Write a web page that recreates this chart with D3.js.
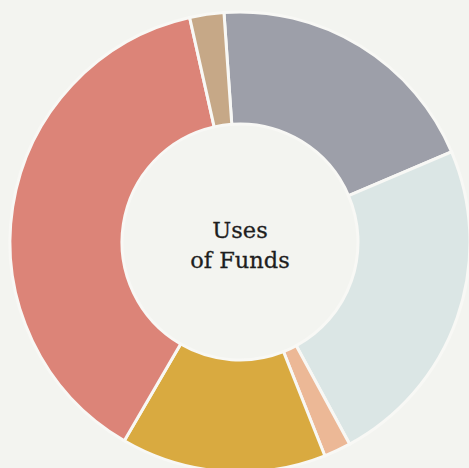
<!DOCTYPE html>
<html>
<head>
<meta charset="utf-8">
<script src="https://cdn.jsdelivr.net/npm/d3@7"></script>
<style>
  html, body { margin: 0; padding: 0; background: #f3f4f0; overflow: hidden; }
  svg { display: block; }
</style>
</head>
<body>
<svg id="chart" width="469" height="468"></svg>
<script>
const categories = ["Gray", "Light blue", "Peach", "Gold", "Salmon", "Tan"];
const values = [19.7, 23.5, 1.9, 14.4, 38.1, 2.4];
const colors = ["#9d9fa9", "#dbe6e5", "#ecb896", "#d9aa40", "#dc8478", "#c6a887"];
const titleLines = ["Uses", "of Funds"];

const width = 469, height = 468;
const cx = 240, cy = 242;
const outerR = 230, innerR = 118;
const startDeg = -4;

const svg = d3.select("#chart");
svg.append("rect").attr("width", width).attr("height", height).attr("fill", "#f3f4f0");

const data = categories.map((c, i) => ({ name: c, value: values[i], color: colors[i] }));

const pie = d3.pie()
  .sort(null)
  .value(d => d.value)
  .startAngle(startDeg * Math.PI / 180)
  .endAngle((360 + startDeg) * Math.PI / 180);

const arc = d3.arc().innerRadius(innerR).outerRadius(outerR);

const g = svg.append("g").attr("transform", `translate(${cx},${cy})`);

g.selectAll("path")
  .data(pie(data))
  .join("path")
  .attr("d", arc)
  .attr("fill", d => d.data.color)
  .attr("stroke", "#f8f8f5")
  .attr("stroke-width", 3)
  .attr("stroke-linejoin", "miter");

const text = g.append("text")
  .attr("text-anchor", "middle")
  .attr("font-family", "'DejaVu Serif', serif")
  .attr("font-size", 22.5)
  .attr("fill", "#1e1e1e")
  .attr("stroke", "#1e1e1e")
  .attr("stroke-width", 0.3);

titleLines.forEach((t, i) => {
  text.append("tspan")
    .attr("x", 0)
    .attr("y", -4 + i * 30)
    .text(t);
});
</script>
</body>
</html>
